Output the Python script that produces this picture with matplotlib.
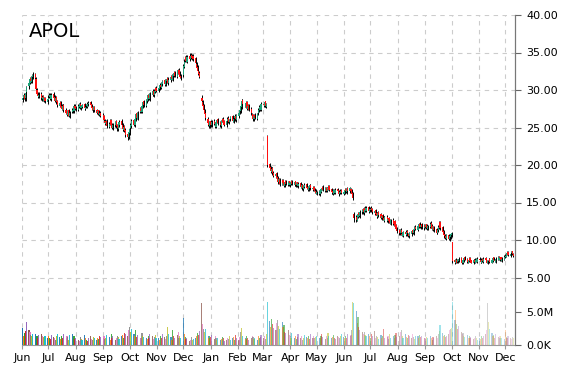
import numpy as np
import pandas as pd
import matplotlib
matplotlib.use("Agg")
import matplotlib.pyplot as plt
import matplotlib.dates as mdates
from matplotlib.colors import to_rgba

# Daily OHLC (USD) and volume (millions), one row per month, Jun 2014 - Dec 2015
opens = [
    28.7, 29.0, 29.4, 28.9, 29.7, 30.5, 31.0, 31.6, 31.1, 31.7, 32.1, 31.5, 30.0, 29.6, 29.1, 29.5, 28.8, 29.2, 28.6, 28.9, 28.4,
    28.7, 29.1, 29.4, 28.8, 29.5, 29.1, 28.5, 29.0, 28.5, 27.9, 28.4, 27.9, 27.4, 28.0, 27.4, 27.1, 26.7, 27.3, 26.5, 27.1, 27.5, 27.2, 27.9,
    27.7, 27.4, 27.8, 28.2, 27.6, 27.8, 28.1, 27.5, 27.9, 27.8, 28.1, 28.4, 28.1, 27.7, 27.3, 27.8, 27.4, 26.9, 27.3, 26.7, 27.0,
    26.7, 26.5, 25.9, 25.5, 25.9, 25.1, 25.6, 26.0, 25.4, 24.9, 25.3, 25.8, 25.3, 24.8, 25.3, 25.9, 25.4, 24.7, 25.2, 24.7, 24.1, 23.7,
    24.3, 24.9, 25.2, 26.0, 25.3, 26.1, 26.9, 26.2, 27.1, 27.6, 27.1, 27.8, 28.5, 27.9, 28.5, 28.8, 29.4, 28.8, 29.4, 29.9, 29.3, 29.8, 30.3,
    29.9, 30.2, 30.7, 30.3, 30.8, 31.3, 30.7, 31.2, 31.6, 30.9, 31.3, 31.9, 31.4, 31.9, 32.4, 31.8, 32.3, 32.7, 32.3, 31.9,
    32.0, 33.1, 33.9, 34.4, 33.8, 34.5, 34.1, 34.7, 34.2, 34.6, 34.2, 33.5, 33.1, 32.5, 32.3, 29.0, 28.4, 28.0, 27.3, 26.9, 26.2, 25.7, 25.2,
    25.8, 25.3, 25.9, 25.6, 25.1, 25.8, 26.1, 25.7, 25.2, 25.9, 26.2, 25.8, 25.3, 25.9, 26.3, 25.7, 26.1, 26.5, 25.8, 26.3, 26.6, 26.0,
    26.5, 27.0, 27.2, 27.7, 28.6, 28.1, 27.8, 28.4, 27.5, 28.0, 27.5, 26.8, 26.6, 26.1, 26.7, 26.2, 26.9, 27.3, 27.9, 27.4,
    28.2, 27.9, 28.5, 27.8, 23.9, 20.1, 19.7, 19.1, 19.6, 19.0, 18.5, 18.9, 18.4, 17.7, 18.2, 17.4, 18.0, 17.7, 17.2, 17.9, 17.4, 17.8,
    17.3, 17.5, 17.9, 17.4, 17.8, 17.3, 17.7, 17.2, 17.6, 17.0, 17.4, 16.8, 17.1, 17.5, 17.1, 16.7, 17.0, 17.4, 16.8, 17.1, 16.8, 16.6,
    16.2, 16.5, 16.1, 16.4, 16.9, 17.1, 16.6, 17.0, 16.5, 16.9, 17.2, 16.8, 16.5, 16.2, 16.7, 16.3, 16.8, 16.6, 16.1, 16.3, 16.7,
    16.2, 16.3, 16.8, 16.4, 16.9, 16.5, 16.8, 16.6, 16.3, 13.5, 13.1, 12.6, 13.1, 13.6, 13.2, 13.7, 14.1, 13.6, 14.3, 13.9, 14.4, 13.8,
    14.0, 14.3, 14.1, 13.6, 14.0, 13.6, 13.1, 13.7, 13.4, 12.9, 13.3, 13.0, 12.6, 13.1, 12.5, 12.9, 12.6, 12.2, 12.7, 12.1, 12.5, 12.0, 11.6,
    11.3, 10.9, 11.4, 10.8, 10.6, 11.1, 10.7, 11.2, 10.8, 10.5, 10.8, 11.3, 10.9, 11.3, 11.8, 11.4, 11.8, 12.2, 11.7, 12.1, 11.6,
    12.0, 11.7, 12.1, 11.5, 11.8, 12.3, 11.9, 11.4, 11.8, 11.4, 10.9, 11.3, 11.7, 12.4, 11.7, 11.2, 10.8, 10.6, 10.2, 10.7, 10.1, 10.4,
    10.7, 9.7, 7.3, 7.0, 7.4, 7.1, 7.2, 7.6, 7.3, 6.9, 7.2, 7.7, 7.5, 7.0, 7.2, 7.6, 7.3, 6.9, 7.4, 7.0, 7.5, 7.1,
    7.5, 7.4, 7.0, 7.5, 7.1, 7.6, 7.3, 6.9, 7.3, 7.5, 7.0, 7.2, 7.7, 7.3, 7.1, 7.4, 7.8, 7.3, 7.7, 7.2, 7.4,
    7.7, 7.8, 8.2, 8.4, 7.9, 8.3, 8.5, 8.2,
]
highs = [
    29.3, 29.6, 29.6, 29.8, 30.6, 31.3, 31.8, 31.9, 32.1, 32.4, 32.3, 31.7, 30.3, 29.8, 29.7, 29.7, 29.3, 29.4, 29.1, 29.1, 29.0,
    29.3, 29.6, 29.6, 29.6, 29.7, 29.3, 29.1, 29.2, 28.7, 28.5, 28.6, 28.1, 28.1, 28.2, 27.6, 27.3, 27.4, 27.5, 27.2, 27.6, 27.7, 28.1, 28.2,
    27.9, 28.1, 28.3, 28.4, 28.0, 28.2, 28.3, 27.9, 28.1, 28.4, 28.6, 28.6, 28.2, 27.8, 27.9, 27.9, 27.5, 27.4, 27.4, 27.1, 27.2,
    26.9, 26.7, 26.1, 26.0, 26.1, 25.7, 26.1, 26.2, 25.6, 25.6, 25.9, 26.0, 25.5, 25.6, 26.0, 26.1, 25.6, 25.3, 25.4, 24.9, 24.3, 24.7,
    25.1, 25.6, 26.2, 26.2, 26.4, 27.0, 27.1, 27.2, 27.8, 27.8, 28.1, 28.6, 28.7, 28.8, 29.1, 29.5, 29.6, 29.7, 30.0, 30.1, 30.1, 30.4, 30.5,
    30.5, 30.8, 30.9, 31.1, 31.4, 31.5, 31.5, 31.7, 31.8, 31.6, 32.0, 32.1, 32.2, 32.5, 32.6, 32.6, 32.8, 32.9, 32.5, 32.1,
    33.5, 34.1, 34.6, 34.7, 34.7, 34.8, 34.9, 34.9, 34.8, 34.8, 34.4, 33.7, 33.3, 32.8, 32.5, 29.3, 28.7, 28.2, 27.5, 27.1, 26.4, 25.9, 25.9,
    26.0, 26.0, 26.1, 25.8, 25.9, 26.2, 26.3, 25.9, 26.0, 26.3, 26.4, 26.0, 26.1, 26.4, 26.5, 26.2, 26.6, 26.7, 26.4, 26.7, 26.8, 26.8,
    27.1, 27.5, 28.0, 28.8, 28.8, 28.3, 28.5, 28.6, 28.1, 28.2, 27.7, 27.0, 26.8, 26.8, 26.9, 27.0, 27.6, 28.0, 28.1, 28.4,
    28.4, 28.6, 28.6, 28.3, 24.0, 20.3, 19.9, 19.7, 19.8, 19.2, 19.0, 19.1, 18.5, 18.3, 18.3, 18.1, 18.1, 17.8, 18.0, 18.0, 17.9, 17.9,
    17.8, 18.0, 18.0, 17.9, 17.9, 17.8, 17.8, 17.7, 17.7, 17.5, 17.5, 17.4, 17.6, 17.6, 17.2, 17.3, 17.5, 17.5, 17.2, 17.2, 17.0, 16.8,
    16.6, 16.7, 16.7, 17.0, 17.2, 17.3, 17.1, 17.1, 17.0, 17.3, 17.4, 16.9, 16.6, 16.8, 16.8, 16.9, 17.0, 16.7, 16.6, 16.8, 16.8,
    16.6, 16.9, 17.0, 17.0, 17.1, 17.1, 17.0, 16.8, 16.4, 13.7, 13.3, 13.4, 13.7, 13.8, 14.0, 14.2, 14.3, 14.4, 14.5, 14.5, 14.6, 14.3,
    14.4, 14.5, 14.3, 14.0, 14.2, 13.8, 13.8, 13.9, 13.6, 13.4, 13.5, 13.2, 13.2, 13.3, 13.0, 13.1, 12.8, 12.8, 12.9, 12.6, 12.7, 12.2, 11.8,
    11.5, 11.5, 11.6, 11.0, 11.2, 11.3, 11.3, 11.4, 11.0, 11.1, 11.4, 11.5, 11.6, 11.9, 12.0, 12.1, 12.3, 12.4, 12.2, 12.3, 12.1,
    12.2, 12.2, 12.2, 12.0, 12.4, 12.5, 12.1, 11.9, 11.9, 11.5, 11.6, 12.0, 12.5, 12.6, 11.9, 11.4, 11.0, 10.8, 10.8, 10.8, 10.7, 11.0,
    11.1, 9.8, 7.5, 7.6, 7.5, 7.4, 7.7, 7.8, 7.4, 7.4, 7.8, 7.9, 7.6, 7.4, 7.7, 7.7, 7.4, 7.5, 7.5, 7.6, 7.6, 7.7,
    7.7, 7.5, 7.6, 7.6, 7.7, 7.7, 7.4, 7.4, 7.6, 7.6, 7.5, 7.8, 7.8, 7.5, 7.7, 7.9, 7.9, 7.8, 7.8, 7.7, 8.0,
    8.1, 8.3, 8.5, 8.5, 8.4, 8.6, 8.6, 8.3,
]
lows = [
    28.4, 28.8, 28.6, 28.6, 29.5, 30.2, 30.8, 31.0, 30.9, 31.5, 31.4, 30.0, 29.3, 29.0, 28.9, 28.7, 28.6, 28.5, 28.4, 28.3, 28.2,
    28.5, 28.9, 28.7, 28.6, 28.8, 28.4, 28.3, 28.2, 27.8, 27.7, 27.6, 27.3, 27.2, 27.1, 26.8, 26.6, 26.5, 26.4, 26.3, 26.9, 27.0, 27.0, 27.4,
    27.2, 27.2, 27.6, 27.5, 27.4, 27.6, 27.4, 27.3, 27.6, 27.6, 27.9, 27.8, 27.4, 27.1, 27.1, 27.1, 26.8, 26.7, 26.6, 26.5, 26.4,
    26.2, 25.8, 25.4, 25.3, 25.0, 24.9, 25.4, 25.1, 24.8, 24.7, 25.1, 25.0, 24.6, 24.6, 25.1, 25.1, 24.6, 24.5, 24.4, 23.8, 23.4, 23.5,
    24.0, 24.6, 25.0, 25.2, 25.1, 25.9, 26.1, 26.0, 26.9, 27.0, 26.9, 27.6, 27.8, 27.7, 28.3, 28.6, 28.7, 28.6, 29.2, 29.2, 29.1, 29.6, 29.7,
    29.7, 30.0, 30.2, 30.1, 30.6, 30.6, 30.5, 31.0, 30.8, 30.7, 31.1, 31.3, 31.2, 31.7, 31.7, 31.6, 32.1, 32.0, 31.6, 31.3,
    31.8, 32.9, 33.7, 33.7, 33.6, 34.0, 33.9, 34.1, 34.0, 33.9, 33.4, 32.8, 32.4, 32.0, 31.6, 28.2, 27.6, 27.1, 26.5, 26.0, 25.2, 25.0, 25.0,
    25.1, 25.1, 25.3, 25.0, 24.9, 25.6, 25.4, 25.1, 25.0, 25.7, 25.5, 25.2, 25.1, 25.7, 25.6, 25.5, 25.9, 25.7, 25.6, 26.1, 25.9, 25.8,
    26.3, 26.8, 27.0, 27.5, 28.0, 27.7, 27.6, 27.4, 27.3, 27.2, 26.7, 26.3, 25.9, 25.9, 26.1, 26.0, 26.7, 27.1, 27.2, 27.2,
    27.7, 27.7, 27.7, 27.6, 19.8, 19.3, 18.9, 18.9, 18.7, 18.4, 18.3, 18.1, 17.5, 17.5, 17.2, 17.3, 17.4, 17.1, 17.1, 17.3, 17.2, 17.2,
    17.1, 17.3, 17.3, 17.2, 17.2, 17.1, 17.1, 17.0, 16.9, 16.8, 16.7, 16.6, 16.9, 16.8, 16.6, 16.5, 16.8, 16.7, 16.6, 16.5, 16.3, 16.1,
    16.0, 16.0, 15.9, 16.3, 16.7, 16.5, 16.4, 16.4, 16.4, 16.7, 16.5, 16.2, 16.1, 16.0, 16.2, 16.1, 16.3, 16.0, 15.9, 16.1, 16.1,
    16.0, 16.1, 16.3, 16.2, 16.4, 16.3, 16.3, 16.0, 15.4, 12.4, 12.4, 12.5, 12.9, 13.1, 13.0, 13.5, 13.5, 13.4, 13.8, 13.7, 13.7, 13.6,
    13.8, 13.8, 13.5, 13.4, 13.3, 13.0, 12.9, 13.1, 12.8, 12.7, 12.7, 12.5, 12.4, 12.4, 12.3, 12.3, 12.1, 12.0, 12.0, 11.9, 11.7, 11.3, 10.9,
    10.7, 10.7, 10.7, 10.5, 10.4, 10.6, 10.5, 10.7, 10.4, 10.3, 10.6, 10.8, 10.7, 11.1, 11.3, 11.2, 11.6, 11.6, 11.5, 11.5, 11.4,
    11.6, 11.5, 11.4, 11.3, 11.6, 11.6, 11.3, 11.2, 11.1, 10.8, 10.8, 11.1, 11.5, 11.4, 10.9, 10.5, 10.3, 10.1, 10.0, 10.0, 9.9, 10.2,
    10.4, 7.0, 6.8, 6.9, 6.9, 6.9, 7.1, 7.1, 6.8, 6.8, 7.1, 7.3, 7.0, 6.9, 7.1, 7.1, 6.9, 6.8, 7.0, 6.9, 7.1, 7.0,
    7.2, 7.0, 6.9, 7.1, 7.0, 7.2, 6.9, 6.8, 7.2, 7.0, 6.9, 7.1, 7.3, 7.1, 7.0, 7.3, 7.3, 7.2, 7.2, 7.1, 7.3,
    7.6, 7.7, 8.0, 7.9, 7.8, 8.1, 8.0, 7.7,
]
closes = [
    29.0, 29.3, 28.8, 29.6, 30.4, 31.0, 31.5, 31.2, 31.8, 32.0, 31.6, 30.2, 29.5, 29.2, 29.4, 28.9, 29.1, 28.7, 28.9, 28.5, 28.8,
    29.0, 29.3, 28.9, 29.4, 29.0, 28.6, 28.9, 28.4, 28.0, 28.3, 27.8, 27.5, 27.9, 27.3, 27.0, 26.8, 27.2, 26.6, 27.0, 27.4, 27.3, 27.8, 27.6,
    27.5, 27.9, 28.1, 27.7, 27.9, 28.0, 27.6, 27.8, 27.9, 28.2, 28.3, 28.0, 27.6, 27.4, 27.7, 27.3, 27.0, 27.2, 26.8, 26.9, 26.6,
    26.4, 26.0, 25.6, 25.8, 25.2, 25.5, 25.9, 25.3, 25.0, 25.4, 25.7, 25.2, 24.9, 25.4, 25.8, 25.3, 24.8, 25.1, 24.6, 24.0, 23.8, 24.4,
    24.8, 25.3, 25.9, 25.4, 26.2, 26.8, 26.3, 27.0, 27.5, 27.2, 27.9, 28.4, 28.0, 28.6, 28.9, 29.3, 28.9, 29.5, 29.8, 29.4, 29.9, 30.2, 29.9,
    30.3, 30.6, 30.4, 30.9, 31.2, 30.8, 31.3, 31.5, 31.0, 31.4, 31.8, 31.5, 32.0, 32.3, 31.9, 32.4, 32.6, 32.2, 31.8, 31.6,
    33.2, 33.8, 34.3, 33.9, 34.4, 34.2, 34.6, 34.3, 34.5, 34.1, 33.6, 33.0, 32.6, 32.2, 31.8, 28.5, 27.9, 27.4, 26.8, 26.3, 25.6, 25.3, 25.7,
    25.4, 25.8, 25.5, 25.2, 25.7, 26.0, 25.6, 25.3, 25.8, 26.1, 25.7, 25.4, 25.9, 26.2, 25.8, 26.0, 26.4, 25.9, 26.2, 26.5, 26.1, 26.6,
    26.9, 27.3, 27.8, 28.5, 28.2, 27.9, 28.3, 27.6, 27.9, 27.4, 26.9, 26.5, 26.2, 26.6, 26.3, 26.8, 27.4, 27.8, 27.5, 28.1,
    28.0, 28.4, 27.9, 28.2, 20.0, 19.6, 19.2, 19.5, 18.9, 18.6, 18.8, 18.3, 17.8, 18.1, 17.5, 17.9, 17.6, 17.3, 17.8, 17.5, 17.7, 17.4,
    17.6, 17.8, 17.5, 17.7, 17.4, 17.6, 17.3, 17.5, 17.1, 17.3, 16.9, 17.2, 17.4, 17.0, 16.8, 17.1, 17.3, 16.9, 17.0, 16.7, 16.5, 16.3,
    16.4, 16.2, 16.5, 16.8, 17.0, 16.7, 16.9, 16.6, 16.8, 17.1, 16.7, 16.4, 16.3, 16.6, 16.4, 16.7, 16.5, 16.2, 16.4, 16.6, 16.3,
    16.4, 16.7, 16.5, 16.8, 16.6, 16.9, 16.5, 16.2, 15.6, 13.0, 12.7, 13.2, 13.5, 13.3, 13.8, 14.0, 13.7, 14.2, 14.0, 14.3, 13.9, 14.1,
    14.2, 14.0, 13.7, 13.9, 13.5, 13.2, 13.6, 13.3, 13.0, 13.2, 12.9, 12.7, 13.0, 12.6, 12.8, 12.5, 12.3, 12.6, 12.2, 12.4, 11.9, 11.5, 11.2,
    11.0, 11.3, 10.9, 10.7, 11.0, 10.8, 11.1, 10.9, 10.6, 10.9, 11.2, 11.0, 11.4, 11.7, 11.5, 11.9, 12.1, 11.8, 12.0, 11.7, 11.9,
    11.8, 12.0, 11.6, 11.9, 12.2, 11.8, 11.5, 11.7, 11.3, 11.0, 11.4, 11.8, 12.3, 11.6, 11.1, 10.7, 10.5, 10.3, 10.6, 10.2, 10.5, 10.8,
    10.9, 7.2, 7.1, 7.4, 7.0, 7.3, 7.5, 7.2, 7.0, 7.3, 7.6, 7.4, 7.1, 7.3, 7.5, 7.2, 7.0, 7.3, 7.1, 7.4, 7.2, 7.5,
    7.3, 7.1, 7.4, 7.2, 7.5, 7.3, 7.0, 7.2, 7.4, 7.1, 7.3, 7.6, 7.4, 7.2, 7.5, 7.7, 7.4, 7.6, 7.3, 7.5, 7.8,
    7.9, 8.1, 8.3, 8.0, 8.2, 8.4, 8.1, 7.9,
]
volumes_m = [
    2.6, 1.4, 1.8, 2.1, 3.5, 2.2, 1.9, 1.5, 1.3, 1.7, 1.6, 1.2, 1.4, 1.1, 1.5, 1.6, 1.3, 1.0, 1.2, 1.4, 1.1,
    1.3, 1.0, 0.9, 1.5, 1.2, 1.1, 0.8, 1.4, 1.6, 1.2, 0.9, 1.3, 1.1, 1.7, 1.0, 1.4, 1.2, 0.8, 1.5, 1.6, 1.1, 1.3, 0.9,
    1.0, 0.8, 0.6, 1.2, 0.9, 0.7, 1.5, 1.1, 0.8, 0.6, 1.0, 1.3, 0.9, 0.7, 1.2, 1.0, 0.8, 1.1, 0.9, 1.4, 1.2,
    1.0, 1.3, 0.9, 1.1, 1.5, 1.2, 0.8, 1.6, 1.0, 1.3, 0.7, 1.1, 1.4, 1.2, 0.9, 1.3, 1.5, 1.1, 1.8, 1.7, 1.4, 2.2,
    2.7, 1.9, 2.5, 1.6, 1.4, 2.3, 1.2, 1.5, 1.1, 1.0, 1.8, 1.3, 1.2, 1.0, 0.9, 1.4, 1.1, 1.6, 1.3, 0.9, 1.2, 1.5, 1.0,
    1.1, 0.8, 1.3, 1.0, 1.6, 1.2, 0.9, 1.4, 2.8, 1.7, 1.2, 0.8, 2.2, 1.3, 1.0, 1.5, 1.9, 1.1, 1.3, 1.0,
    4.1, 1.6, 1.2, 0.9, 1.1, 0.6, 0.8, 1.2, 0.7, 0.9, 1.1, 1.4, 1.8, 1.5, 2.1, 6.4, 3.2, 2.4, 1.9, 2.5, 1.4, 1.1, 1.3,
    1.2, 1.5, 0.9, 1.3, 1.0, 0.8, 1.1, 0.7, 0.9, 1.2, 1.0, 0.6, 0.8, 1.1, 0.9, 1.3, 0.7, 1.0, 1.2, 0.8, 1.5, 1.1,
    0.8, 1.2, 2.0, 2.6, 1.4, 1.0, 0.9, 1.3, 1.1, 0.7, 1.0, 1.4, 1.2, 0.9, 1.1, 0.8, 1.3, 1.0, 1.2, 1.5,
    1.0, 1.3, 0.9, 1.6, 6.5, 3.6, 2.8, 4.0, 3.2, 2.6, 2.2, 3.3, 3.8, 2.9, 2.4, 3.5, 2.7, 3.1, 2.0, 1.8, 2.3, 1.5,
    1.3, 1.1, 1.8, 1.0, 1.4, 0.9, 1.2, 1.6, 1.0, 1.3, 0.8, 1.1, 1.5, 1.2, 1.0, 1.4, 0.9, 1.7, 1.1, 1.3, 1.0, 1.2,
    1.4, 1.1, 1.0, 1.3, 1.6, 1.2, 0.9, 1.4, 1.1, 1.8, 1.3, 1.0, 1.2, 1.5, 1.1, 0.9, 1.4, 1.2, 1.0, 1.3, 1.6,
    1.2, 1.0, 1.4, 1.1, 1.6, 1.3, 1.5, 2.2, 6.5, 6.4, 5.2, 3.4, 4.3, 2.8, 2.2, 1.9, 1.6, 2.0, 1.5, 1.3, 1.7, 1.4,
    1.1, 1.6, 1.3, 2.1, 1.0, 1.4, 1.2, 0.9, 1.5, 1.1, 1.3, 2.4, 1.0, 1.2, 1.4, 0.9, 1.6, 1.1, 1.3, 1.0, 1.5, 1.8, 1.2,
    1.3, 1.9, 2.2, 1.4, 1.1, 1.6, 1.2, 1.0, 1.5, 1.3, 1.1, 1.7, 1.2, 0.9, 1.4, 1.3, 1.0, 1.5, 1.2, 1.4, 1.1,
    1.1, 0.9, 1.2, 1.0, 1.3, 1.1, 0.8, 1.2, 1.0, 1.4, 1.1, 1.6, 2.1, 3.1, 1.8, 1.3, 1.5, 1.2, 1.4, 1.7, 2.2, 2.4,
    2.6, 6.5, 3.8, 5.3, 3.2, 2.5, 2.9, 2.0, 1.6, 1.8, 1.4, 1.2, 1.5, 1.1, 1.3, 1.0, 1.2, 0.9, 1.1, 1.4, 1.0, 0.8,
    1.1, 0.9, 1.3, 1.0, 1.4, 1.6, 2.2, 6.4, 3.5, 2.4, 1.8, 1.3, 1.5, 1.1, 1.6, 1.2, 1.4, 1.0, 1.3, 1.1, 0.9,
    2.3, 1.2, 1.0, 1.4, 1.1, 0.9, 1.2, 1.0,
]
ticker = "APOL"
price_ticks = [5, 10, 15, 20, 25, 30, 35, 40]

dates = pd.bdate_range("2014-06-02", periods=len(closes))
o = np.array(opens)
h = np.array(highs)
l = np.array(lows)
c = np.array(closes)
v = np.array(volumes_m) * 1e6

fig = plt.figure(figsize=(5.7, 3.7), dpi=100)
ax = fig.add_axes([22 / 570, 25 / 370, 493 / 570, 330 / 370])
vax = ax.twinx()

grid_kw = dict(color="#cccccc", linestyle=(0, (4, 4)), linewidth=0.8)
ax.set_axisbelow(True)
ax.grid(True, **grid_kw)

# volume bars, cycling colours that fade over time
base = plt.get_cmap("tab10").colors
alphas = np.linspace(1.0, 0.3, len(v))
vcols = [to_rgba(base[i % 10], a) for i, a in enumerate(alphas)]
vax.bar(dates, v, width=1.3, color=vcols, linewidth=0)
vax.set_ylim(0, 50e6)
vax.set_yticks([0, 5e6])
vax.set_yticklabels(["0.0K", "5.0M"])

# candlesticks
up = c >= o
ax.vlines(dates, l, h, color="black", linewidth=0.7, zorder=3)
body_low = np.minimum(o, c)
body_h = np.maximum(np.abs(c - o), 0.1)
ax.bar(dates, body_h, bottom=body_low, width=1.4,
       color=np.where(up, "#1fa27a", "#ff1010"), linewidth=0, zorder=4)

ax.set_ylim(-4, 40)
ax.set_yticks(price_ticks)
ax.set_yticklabels([f"{t:.2f}" for t in price_ticks])
ax.set_xlim(pd.Timestamp("2014-06-01"), pd.Timestamp("2015-12-12"))
ax.xaxis.set_major_locator(mdates.MonthLocator())
ax.xaxis.set_major_formatter(mdates.DateFormatter("%b"))

for a in (ax, vax):
    a.yaxis.tick_right()
    a.tick_params(axis="y", right=True, left=False, length=4, color="#666666",
                  labelsize=8, labelcolor="black", pad=4)
    for s in ("top", "left"):
        a.spines[s].set_visible(False)
vax.spines["right"].set_color("#777777")
vax.spines["bottom"].set_visible(False)
ax.spines["right"].set_color("#777777")
ax.spines["bottom"].set_color("#999999")
ax.tick_params(axis="x", length=3, color="#999999", labelsize=8, pad=3)

ax.text(0.014, 0.951, ticker, transform=ax.transAxes, fontsize=14,
        va="center", ha="left", color="black")

fig.savefig("out.png", dpi=100)
